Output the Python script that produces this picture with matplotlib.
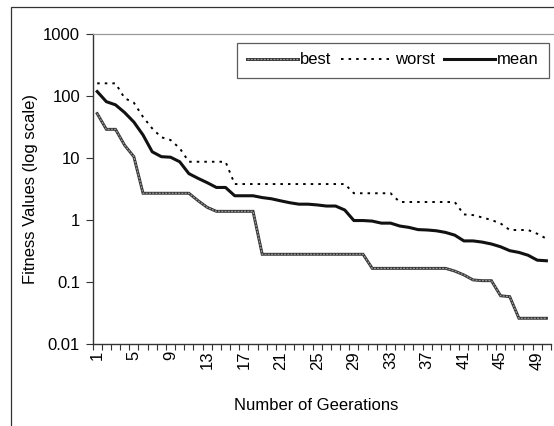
import numpy as np
import matplotlib
matplotlib.use("Agg")
import matplotlib.pyplot as plt
from matplotlib.lines import Line2D
from matplotlib.patches import Rectangle
from matplotlib.ticker import NullLocator

plt.rcParams['font.family'] = ['Liberation Sans', 'DejaVu Sans']

generations = np.arange(1, 51)
best = [52, 29, 29, 16, 10.5, 2.7, 2.7, 2.7, 2.7, 2.7, 2.7, 2.05, 1.6,
        1.38, 1.38, 1.38, 1.38, 1.38,
        0.28, 0.28, 0.28, 0.28, 0.28, 0.28, 0.28, 0.28, 0.28, 0.28, 0.28, 0.28,
        0.166, 0.166, 0.166, 0.166, 0.166, 0.166, 0.166, 0.166, 0.166,
        0.15, 0.13, 0.108, 0.105, 0.105, 0.06, 0.058, 0.026, 0.026, 0.026, 0.026]
worst = [160, 160, 160, 92, 78, 46, 30, 21.6, 19.5, 14.4,
         8.7, 8.7, 8.7, 8.7, 8.7,
         3.8, 3.8, 3.8, 3.8, 3.8, 3.8, 3.8, 3.8, 3.8, 3.8, 3.8, 3.8, 3.8,
         2.7, 2.7, 2.7, 2.7, 2.7,
         1.95, 1.95, 1.95, 1.95, 1.95, 1.95, 1.95,
         1.23, 1.2, 1.1, 1.0, 0.88, 0.69, 0.69, 0.69, 0.6, 0.5]
mean = [118, 81, 72, 54, 38, 23.5, 12.6, 10.5, 10.3, 8.7,
        5.6, 4.7, 4.0, 3.35, 3.35, 2.46, 2.46, 2.46, 2.3, 2.2,
        2.04, 1.9, 1.8, 1.8, 1.75, 1.68, 1.68, 1.45, 0.98, 0.98,
        0.96, 0.89, 0.89, 0.8, 0.76, 0.7, 0.69, 0.67, 0.63, 0.57,
        0.46, 0.46, 0.44, 0.41, 0.37, 0.32, 0.30, 0.27, 0.225, 0.22]
label_gens = list(range(1, 51, 4))
y_ticks = [0.01, 0.1, 1, 10, 100, 1000]
y_labels = ["0.01", "0.1", "1", "10", "100", "1000"]

W, H = 554, 426
fig = plt.figure(figsize=(W / 100, H / 100), dpi=100)
L, R, T, B = 92.6, 551, 34, 344
ax = fig.add_axes([L / W, (H - B) / H, (R - L) / W, (B - T) / H])

# best: hatched thick grey line
best_base, = ax.plot(generations, best, color='#333333', lw=2.1, solid_joinstyle='miter')
best_top, = ax.plot(generations, best, color='#9a9a9a', lw=0.9, dashes=(1.6, 1.0))
worst_line, = ax.plot(generations, worst, color='black', lw=1.4, dashes=(1.3, 2.6))
mean_line, = ax.plot(generations, mean, color='#111111', lw=2.2)

ax.set_yscale('log')
ax.set_ylim(0.01, 1000)
ax.set_xlim(0.5, 50.5)
ax.set_yticks(y_ticks)
ax.set_yticklabels(y_labels)
ax.yaxis.set_minor_locator(NullLocator())

ax.set_xticks(np.arange(0.5, 51, 1))
ax.set_xticklabels([])
ax.set_xticks(label_gens, [str(g) for g in label_gens], minor=True)
ax.tick_params(axis='x', which='major', direction='out', length=4, width=0.8, color='#333333')
ax.tick_params(axis='x', which='minor', length=0, pad=5, labelsize=12, labelrotation=90)
ax.tick_params(axis='y', which='major', direction='out', length=5, width=0.8, color='#333333',
               pad=4, labelsize=12)

for s in ['top', 'right']:
    ax.spines[s].set_visible(False)
for s in ['left', 'bottom']:
    ax.spines[s].set_color('#333333')
    ax.spines[s].set_linewidth(1.0)

ax.set_ylabel("Fitness Values (log scale)", fontsize=12)
ax.yaxis.set_label_coords(-0.119, 0.5)
ax.set_xlabel("Number of Geerations", fontsize=12)
ax.xaxis.set_label_coords(0.488, -0.174)

leg = fig.legend([(best_base, best_top), worst_line, mean_line], ["best", "worst", "mean"],
                 ncol=3, loc='upper right', bbox_to_anchor=(549 / W, 1 - 42.5 / H),
                 bbox_transform=fig.transFigure, fontsize=12, frameon=True, fancybox=False,
                 handlelength=3.1, handletextpad=0.12, columnspacing=0.55, borderpad=0.6,
                 borderaxespad=0)
leg.get_frame().set_edgecolor('#333333')
leg.get_frame().set_linewidth(0.9)

# top gray line and outer chart border
fig.add_artist(Line2D([L / W, 1.0], [1 - T / H, 1 - T / H], color='#999999', lw=0.9))
fig.add_artist(Rectangle((10.5 / W, -0.2), 2.0, (H - 7) / H + 0.2, transform=fig.transFigure,
                         fill=False, edgecolor='#333333', lw=0.9))

fig.savefig("out.png", dpi=100)
